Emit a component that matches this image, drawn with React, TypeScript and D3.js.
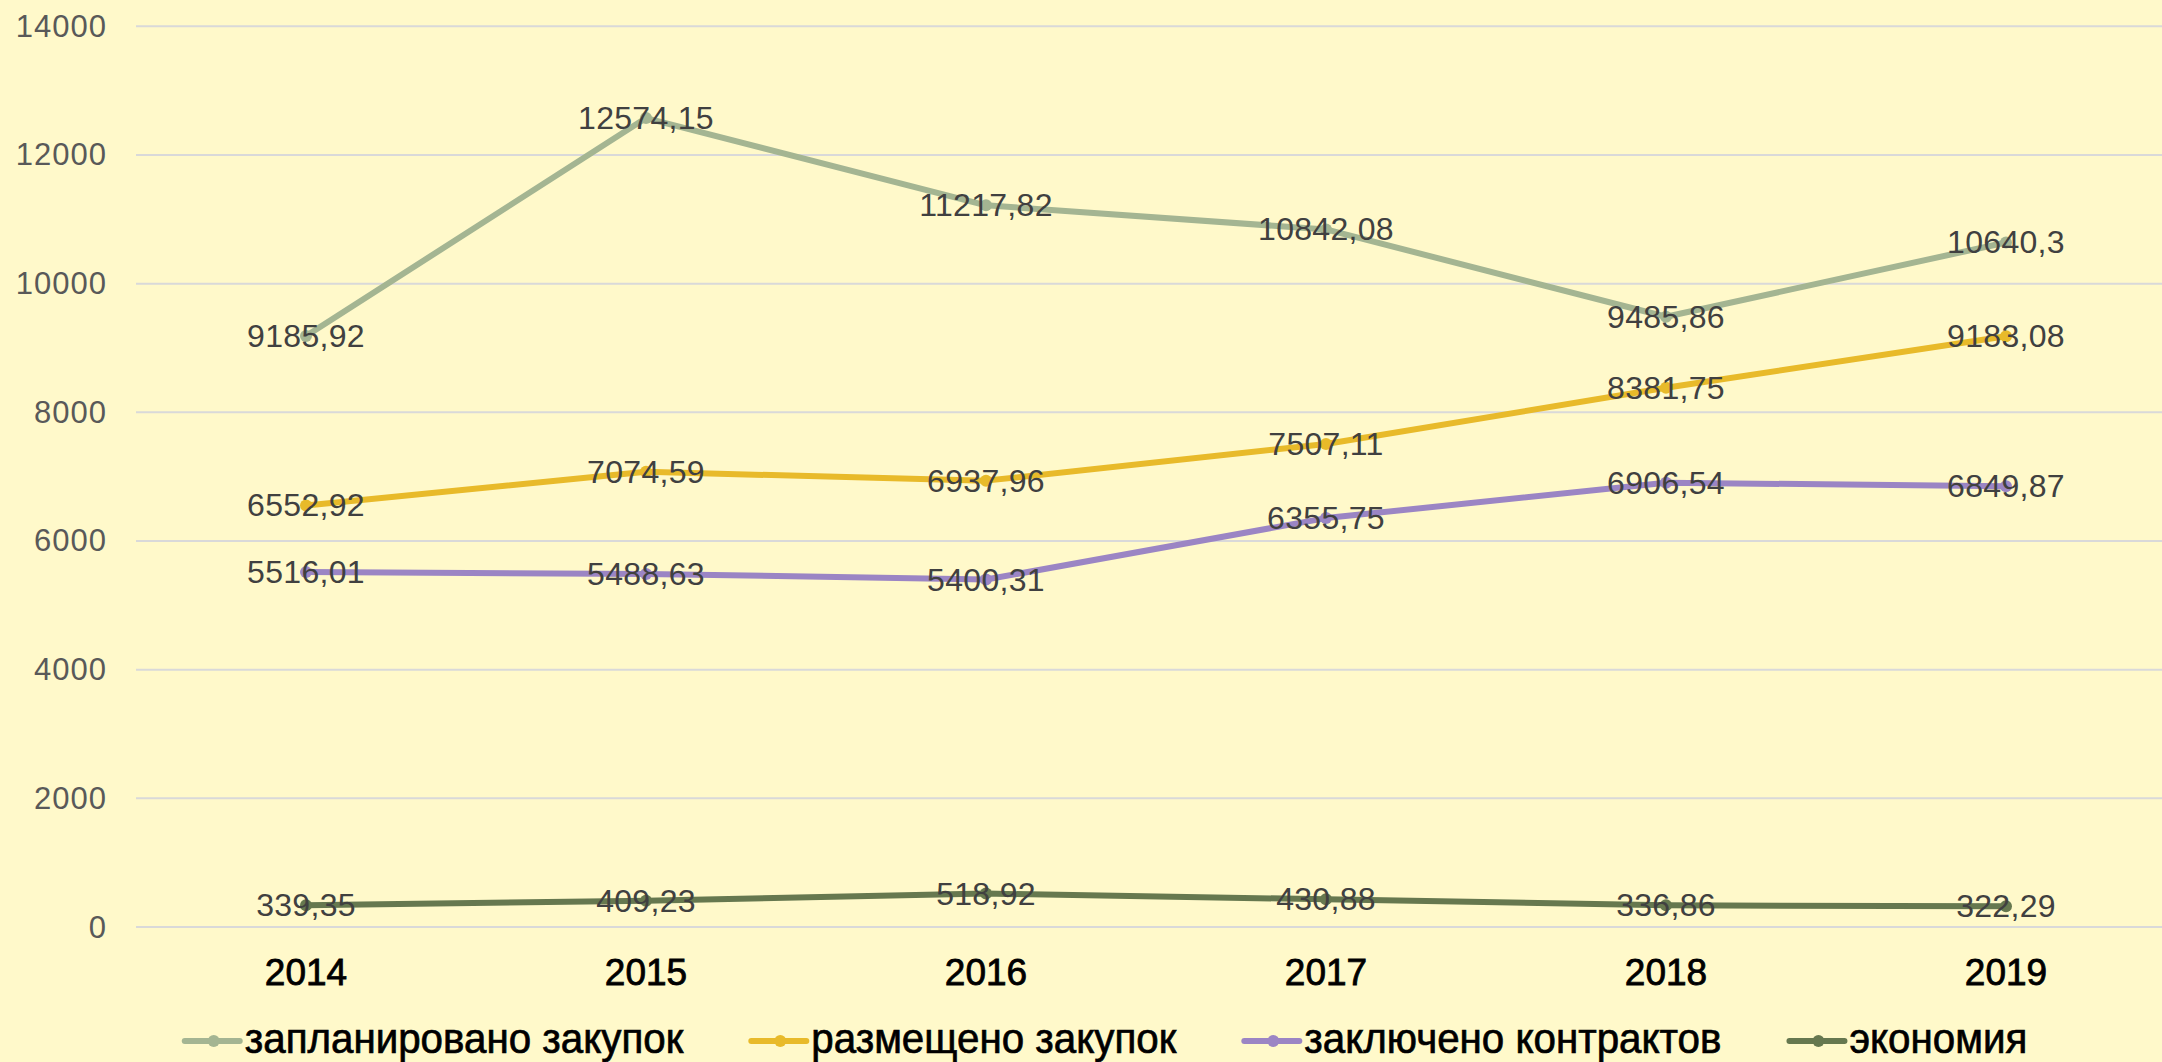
import React, { useRef, useEffect } from "react";
import * as d3 from "d3";

const years = ["2014", "2015", "2016", "2017", "2018", "2019"];
const planned = [9185.92, 12574.15, 11217.82, 10842.08, 9485.86, 10640.3];
const placed = [6552.92, 7074.59, 6937.96, 7507.11, 8381.75, 9183.08];
const contracts = [5516.01, 5488.63, 5400.31, 6355.75, 6906.54, 6849.87];
const savings = [339.35, 409.23, 518.92, 430.88, 336.86, 322.29];
const seriesNames = ["запланировано закупок", "размещено закупок", "заключено контрактов", "экономия"];
const seriesColors = ["#A4B592", "#E8BA2A", "#9B85C4", "#66784F"];
const yTicks = [0, 2000, 4000, 6000, 8000, 10000, 12000, 14000];

const W = 2162;
const H = 1062;
const FONT = "'Liberation Sans', Arial, sans-serif";

const fmt = (v: number) => String(v).replace(".", ",");

const App: React.FC = () => {
  const svgRef = useRef<SVGSVGElement>(null);

  useEffect(() => {
    if (!svgRef.current) return;
    const svg = d3.select(svgRef.current);
    svg.selectAll("*").remove();

    const allSeries = [planned, placed, contracts, savings];

    // plot area runs past the right edge, like the original
    const x = d3.scalePoint<string>().domain(years).range([136, 2176]).padding(0.5);
    const y = d3.scaleLinear().domain([0, 14000]).range([927, 26.3]);

    svg.append("rect").attr("width", W).attr("height", H).attr("fill", "#FFF9CA");

    // gridlines
    svg
      .append("g")
      .selectAll("line")
      .data(yTicks)
      .join("line")
      .attr("x1", 136)
      .attr("x2", W)
      .attr("y1", (d) => y(d))
      .attr("y2", (d) => y(d))
      .attr("stroke", "#D9D9D9")
      .attr("stroke-width", 2);

    // y labels
    svg
      .append("g")
      .selectAll("text")
      .data(yTicks)
      .join("text")
      .attr("x", 107)
      .attr("y", (d) => y(d) + 10.5)
      .attr("text-anchor", "end")
      .style("font-family", FONT)
      .style("font-size", "31px")
      .style("letter-spacing", "1px")
      .attr("fill", "#595959")
      .text((d) => d);

    // x labels
    svg
      .append("g")
      .selectAll("text")
      .data(years)
      .join("text")
      .attr("x", (d) => x(d)!)
      .attr("y", 985)
      .attr("text-anchor", "middle")
      .style("font-family", FONT)
      .style("font-size", "37px")
      .attr("fill", "#000")
      .attr("stroke", "#000")
      .attr("stroke-width", 0.8)
      .text((d) => d);

    const line = d3
      .line<number>()
      .x((_, i) => x(years[i])!)
      .y((d) => y(d));

    allSeries.forEach((vals, s) => {
      const g = svg.append("g");
      g.append("path")
        .attr("d", line(vals))
        .attr("fill", "none")
        .attr("stroke", seriesColors[s])
        .attr("stroke-width", 6)
        .attr("stroke-linejoin", "round")
        .attr("stroke-linecap", "round");
      g.selectAll("circle")
        .data(vals)
        .join("circle")
        .attr("cx", (_, i) => x(years[i])!)
        .attr("cy", (d) => y(d))
        .attr("r", 6)
        .attr("fill", seriesColors[s]);
    });

    // data labels, centred on points
    allSeries.forEach((vals) => {
      svg
        .append("g")
        .selectAll("text")
        .data(vals)
        .join("text")
        .attr("x", (_, i) => x(years[i])!)
        .attr("y", (d) => y(d) + 11)
        .attr("text-anchor", "middle")
        .style("font-family", FONT)
        .style("font-size", "32px")
        .style("letter-spacing", "0.3px")
        .attr("fill", "#404040")
        .text((d) => fmt(d));
    });

    // legend (text a touch condensed, like the original)
    const squeeze = 0.96;
    const legend = svg.append("g");
    const items = seriesNames.map((name, s) => {
      const it = legend.append("g");
      it.append("line")
        .attr("x1", 0)
        .attr("x2", 55)
        .attr("y1", 1041)
        .attr("y2", 1041)
        .attr("stroke", seriesColors[s])
        .attr("stroke-width", 6)
        .attr("stroke-linecap", "round");
      it.append("circle").attr("cx", 29).attr("cy", 1041).attr("r", 6).attr("fill", seriesColors[s]);
      const t = it
        .append("text")
        .attr("transform", `translate(60,1053) scale(${squeeze},1)`)
        .style("font-family", FONT)
        .style("font-size", "42px")
        .attr("fill", "#000")
        .attr("stroke", "#000")
        .attr("stroke-width", 0.7)
        .text(name);
      const w = 60 + squeeze * ((t.node() as SVGTextElement).getComputedTextLength?.() ?? 400);
      return { it, w };
    });
    const gap = 68;
    const total = d3.sum(items, (d) => d.w) + gap * (items.length - 1);
    let cx = 1106 - total / 2;
    items.forEach(({ it, w }) => {
      it.attr("transform", `translate(${cx},0)`);
      cx += w + gap;
    });
  }, []);

  return (
    <svg
      ref={svgRef}
      width={W}
      height={H}
      style={{ position: "absolute", left: 0, top: 0, display: "block" }}
    />
  );
};

export default App;
